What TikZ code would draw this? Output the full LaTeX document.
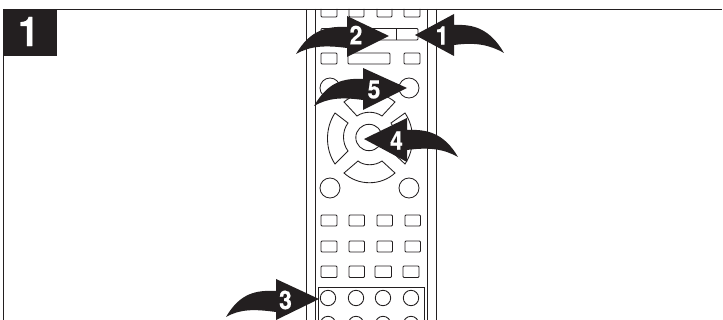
\documentclass[tikz,border=0pt]{standalone}
\usepackage{fontspec}
\setmainfont{TeX Gyre Heros}
\newfontfamily\numfont[FakeBold=0.5,FakeStretch=0.9]{TeX Gyre Heros Bold}
\definecolor{ink}{HTML}{231F20}
\tikzset{
 x=1pt,y=-1pt,
 ln/.style={draw=ink,line width=0.85pt},
 key/.style={ln,rounded corners=1pt},
 num/.style={text=white,font=\numfont\fontsize{25.5}{25.5}\selectfont,inner sep=0pt},
}
\newcommand{\keyrow}[1]{%
 \draw[key] (321,#1) rectangle +(16,11);
 \draw[key] (349,#1) rectangle +(15.5,11);
 \draw[key] (377,#1) rectangle +(15.5,11);
 \draw[key] (405,#1) rectangle +(15.5,11);}
% #1 tip x, #2 tip y, #3 direction, #4 head length, #5 head top, #6 head bottom, #7 body top, #8 body bottom, #9 tail dx
\newcommand{\fatarrow}[9]{%
 \begin{scope}[shift={(#1,#2)},xscale=#3]
 \fill[ink] (0,0) -- (-#4,#5) -- (-#4,#7)
   .. controls ({-#4-20},{#7-1}) and ({-#9+14},-6) .. (-#9,18)
   .. controls ({-#9+14},10) and ({-#4-22},{#8-3}) .. (-#4,#8)
   -- (-#4,#6) -- cycle;
 \end{scope}}
\begin{document}
\begin{tikzpicture}
\useasboundingbox (0,0) rectangle (723,320);
\fill[white] (0,0) rectangle (723,320);
% frame
\draw[ln] (3.5,320) -- (3.5,9) -- (722,9);
\fill[ink] (3,9) rectangle (57,56);
\node[text=white,font=\numfont\fontsize{41}{41}\selectfont,inner sep=0pt] (title) at (28.5,31.5) {1};
% remote body
\draw[ln] (306,9) -- (306,320);
\draw[ln] (315,9) -- (315,320);
\draw[ln] (427,9) -- (427,320);
\draw[ln] (436,9) -- (436,320);
% top keys
\draw[key] (321,9) -- (321,17) -- (337,17) -- (337,9);
\draw[key] (349,9) -- (349,17) -- (364,17) -- (364,9);
\draw[key] (377,9) -- (377,17) -- (392,17) -- (392,9);
\draw[key] (404,9) -- (404,17) -- (420,17) -- (420,9);
\draw[key] (321,28.5) rectangle (337,40);
\draw[key] (349,28.5) rectangle (418,40);
\draw[ln] (396,28.5) -- (396,40);
\draw[key] (321,53) rectangle (337,64);
\draw[key] (348,53) rectangle (390,64);
\draw[key] (404,53) rectangle (420,64);
\draw[ln] (330,88) circle (10);
\draw[ln] (409,88) circle (10);
% d-pad
\draw[ln] (369,137.5) circle (13.2);
\draw[ln] (344,102) .. controls (358,90) and (381,90) .. (395,102) -- (382,116) .. controls (375,111) and (364,111) .. (357,116) -- cycle;
\draw[ln] (344,173) .. controls (358,186) and (381,186) .. (395,173) -- (382,161) .. controls (375,166) and (364,166) .. (358,161) -- cycle;
\draw[ln] (335,113) .. controls (325,128) and (325,149) .. (335,164) -- (348,151) .. controls (342,143) and (342,131) .. (348,123) -- cycle;
\draw[ln] (405,113) .. controls (415,128) and (415,149) .. (405,164) -- (391,151) .. controls (396,143) and (396,131) .. (391,123) -- cycle;
\draw[ln] (330,188) circle (10);
\draw[ln] (409,188) circle (10);
% key rows
\keyrow{215}\keyrow{241}
\draw[key] (321,266) rectangle +(16,11.5);
\draw[key] (349,266) rectangle +(15.5,11.5);
\draw[key] (375,266) rectangle +(16.5,11.5);
\draw[key] (403,266) rectangle +(16,11.5);
% lower panel
\draw[ln] (318,320) -- (318,287) -- (424,287) -- (424,320);
\foreach \cx in {328,356,383,411}{
 \draw[ln] (\cx,298) circle (7.7);
 \draw[ln] (\cx,324) circle (7.7);
}
% arrows
\fatarrow{415}{35}{-1}{39}{-21}{21}{-10}{10}{89}
\fatarrow{389}{36}{1}{42}{-20}{21}{-9}{12}{93}
\fatarrow{407}{88}{1}{44}{-20}{22}{-9}{12}{93}
\fatarrow{319}{299}{1}{43}{-20}{21}{-8}{13}{93}
\fatarrow{364}{139}{-1}{43}{-21}{23}{-9}{11}{94}
\node[num] (n1) at (442,35.5) {1};
\node[num] (n2) at (356,35) {2};
\node[num] (n3) at (285.5,300) {3};
\node[num] (n4) at (396.5,140.5) {4};
\node[num] (n5) at (374,89.5) {5};
\end{tikzpicture}
\end{document}
